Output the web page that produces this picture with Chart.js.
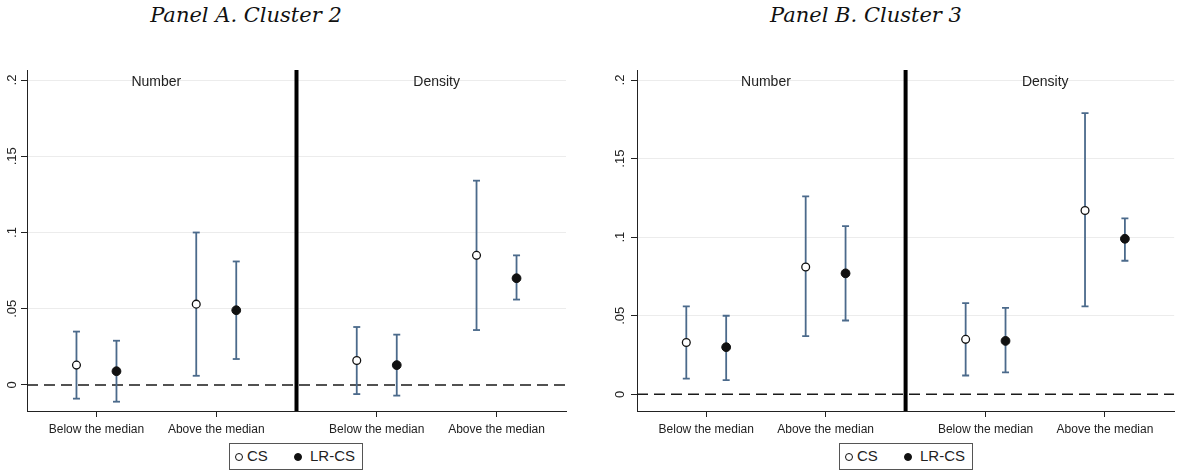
<!doctype html>
<html lang="en">
<head>
<meta charset="utf-8" />
<title>Panel A / Panel B</title>
<script src="https://cdn.jsdelivr.net/npm/chart.js"></script>
<style>
  * { box-sizing: border-box; }
  html, body { margin: 0; padding: 0; background: #fff; }
  body { width: 1180px; height: 473px; position: relative; overflow: hidden; font-family: "Liberation Sans", Arial, sans-serif; }
  .title { position: absolute; top: 3px; width: 300px; text-align: center; font-family: "DejaVu Serif", serif; font-style: italic; font-size: 21px; color: #111; }
  .panel { position: absolute; top: 60px; width: 590px; height: 413px; }
  .legend { position: absolute; top: 443px; width: 134px; height: 27px; border: 1px solid #555; background: #fff; font-size: 15px; color: #222; }
  .legend span { position: absolute; }
  .mk { width: 8px; height: 8px; border-radius: 50%; border: 1.3px solid #111; top: 9px; }
  .mk.fill { background: #111; }
  .lbl { top: 3px; }
</style>
</head>
<body>
  <div class="title" style="left:96px">Panel A. Cluster 2</div>
  <div class="title" style="left:716px">Panel B. Cluster 3</div>

  <div class="panel" style="left:0"><canvas id="panelA"></canvas></div>
  <div class="panel" style="left:590px"><canvas id="panelB"></canvas></div>

  <div class="legend" style="left:229px">
    <span class="mk" style="left:5px"></span><span class="lbl" style="left:17px">CS</span>
    <span class="mk fill" style="left:64px"></span><span class="lbl" style="left:80px">LR-CS</span>
  </div>
  <div class="legend" style="left:839px">
    <span class="mk" style="left:5px"></span><span class="lbl" style="left:17px">CS</span>
    <span class="mk fill" style="left:64px"></span><span class="lbl" style="left:80px">LR-CS</span>
  </div>

<script>
// categories on the x axis (Number: first two, Density: last two)
const categories = ['Below the median', 'Above the median', 'Below the median', 'Above the median'];
const groupLabels = ['Number', 'Density'];
const catPos = [1, 2, 3.34, 4.34];
const dividerPos = 2.67;
const seriesOffset = 0.167;
const xMin = 0.42;
const xMax = 4.92;

const yTicks = [0, 0.05, 0.1, 0.15, 0.2];
const yTickLabels = ['0', '.05', '.1', '.15', '.2'];

// Panel A. Cluster 2
const aCsEst = [0.013, 0.053, 0.016, 0.085];
const aCsLo  = [-0.009, 0.006, -0.006, 0.036];
const aCsHi  = [0.035, 0.100, 0.038, 0.134];
const aLrEst = [0.009, 0.049, 0.013, 0.070];
const aLrLo  = [-0.011, 0.017, -0.007, 0.056];
const aLrHi  = [0.029, 0.081, 0.033, 0.085];

// Panel B. Cluster 3
const bCsEst = [0.033, 0.081, 0.035, 0.117];
const bCsLo  = [0.010, 0.037, 0.012, 0.056];
const bCsHi  = [0.056, 0.126, 0.058, 0.179];
const bLrEst = [0.030, 0.077, 0.034, 0.099];
const bLrLo  = [0.009, 0.047, 0.014, 0.085];
const bLrHi  = [0.050, 0.107, 0.055, 0.112];

const ciColor = '#4b6a8b';

function points(est, offset) {
  return est.map((v, i) => ({ x: catPos[i] + offset, y: v }));
}

// one segment per interval, separated by null gaps
function intervals(lo, hi, offset) {
  const out = [];
  lo.forEach((v, i) => {
    const x = catPos[i] + offset;
    out.push({ x, y: v }, { x, y: hi[i] }, { x, y: null });
  });
  return out;
}

const panelLabels = {
  id: 'panelLabels',
  afterDraw(chart) {
    const ctx = chart.ctx;
    const xs = chart.scales.x;
    const ys = chart.scales.y;
    const area = chart.chartArea;
    ctx.save();
    ctx.fillStyle = '#222';
    // rotated y tick labels
    ctx.font = '13px "Liberation Sans", Arial, sans-serif';
    ctx.textAlign = 'center';
    ctx.textBaseline = 'middle';
    yTicks.forEach((v, i) => {
      ctx.save();
      ctx.translate(area.left - chart.options.plugins.panelLabels.labelGap, ys.getPixelForValue(v));
      ctx.rotate(-Math.PI / 2);
      ctx.fillText(yTickLabels[i], 0, 0);
      ctx.restore();
    });
    // group headers
    ctx.font = '14px "Liberation Sans", Arial, sans-serif';
    ctx.fillText(groupLabels[0], xs.getPixelForValue((catPos[0] + catPos[1]) / 2), area.top + 12);
    ctx.fillText(groupLabels[1], xs.getPixelForValue((catPos[2] + catPos[3]) / 2), area.top + 12);
    ctx.restore();
  }
};

function makeChart(id, p) {
  return new Chart(document.getElementById(id), {
    type: 'scatter',
    data: {
      datasets: [
        { label: 'CS', data: points(p.csEst, -seriesOffset), pointStyle: 'circle', pointRadius: 3.9,
          pointBackgroundColor: '#fff', pointBorderColor: '#111', pointBorderWidth: 1.3, order: 0 },
        { label: 'LR-CS', data: points(p.lrEst, seriesOffset), pointStyle: 'circle', pointRadius: 4.4,
          pointBackgroundColor: '#111', pointBorderColor: '#111', pointBorderWidth: 1, order: 1 },
        { type: 'line', label: 'CS ci', data: intervals(p.csLo, p.csHi, -seriesOffset), borderColor: ciColor,
          borderWidth: 1.8, spanGaps: false, pointStyle: 'line', pointRadius: 3.5, pointBorderColor: ciColor,
          pointBorderWidth: 1.8, order: 2 },
        { type: 'line', label: 'LR-CS ci', data: intervals(p.lrLo, p.lrHi, seriesOffset), borderColor: ciColor,
          borderWidth: 1.8, spanGaps: false, pointStyle: 'line', pointRadius: 3.5, pointBorderColor: ciColor,
          pointBorderWidth: 1.8, order: 3 },
        { type: 'line', label: 'zero', data: [{ x: xMin, y: 0 }, { x: xMax, y: 0 }], borderColor: '#1a1a1a',
          borderWidth: 1.5, borderDash: [11, 6], pointRadius: 0, order: 4 },
        { type: 'line', label: 'divider', data: [{ x: dividerPos, y: p.yMin }, { x: dividerPos, y: p.yMax }],
          borderColor: '#000', borderWidth: 4, pointRadius: 0, order: 5 }
      ]
    },
    options: {
      responsive: true,
      maintainAspectRatio: false,
      animation: false,
      events: [],
      layout: { padding: { top: 10, right: p.padRight, bottom: 37, left: 0 } },
      plugins: {
        legend: { display: false },
        tooltip: { enabled: false },
        panelLabels: { labelGap: p.labelGap }
      },
      scales: {
        x: {
          type: 'linear', min: xMin, max: xMax,
          afterBuildTicks: (s) => { s.ticks = catPos.map(v => ({ value: v })); },
          afterFit: (s) => { s.height = 25; },
          ticks: {
            autoSkip: false, maxRotation: 0, padding: 5, color: '#222',
            font: { family: '"Liberation Sans", Arial, sans-serif', size: 12 },
            callback: (v, i) => categories[i]
          },
          grid: { drawOnChartArea: false, drawTicks: true, tickLength: 6, tickColor: '#222' },
          border: { display: true, color: '#222', width: 1 }
        },
        y: {
          type: 'linear', min: p.yMin, max: p.yMax,
          afterBuildTicks: (s) => { s.ticks = yTicks.map(v => ({ value: v })); },
          afterFit: (s) => { s.width = p.axisWidth; },
          ticks: { display: false },
          grid: {
            color: (c) => (c.tick && c.tick.value === 0 ? 'rgba(0,0,0,0)' : '#ececec'),
            lineWidth: 1, drawTicks: true, tickLength: 6, tickColor: '#222'
          },
          border: { display: true, color: '#222', width: 1 }
        }
      }
    },
    plugins: [panelLabels]
  });
}

makeChart('panelA', {
  csEst: aCsEst, csLo: aCsLo, csHi: aCsHi, lrEst: aLrEst, lrLo: aLrLo, lrHi: aLrHi,
  yMin: -0.0171, yMax: 0.2066, axisWidth: 27, padRight: 24, labelGap: 15
});
makeChart('panelB', {
  csEst: bCsEst, csLo: bCsLo, csHi: bCsHi, lrEst: bLrEst, lrLo: bLrLo, lrHi: bLrHi,
  yMin: -0.0106, yMax: 0.2064, axisWidth: 47, padRight: 3, labelGap: 17
});
</script>
</body>
</html>
